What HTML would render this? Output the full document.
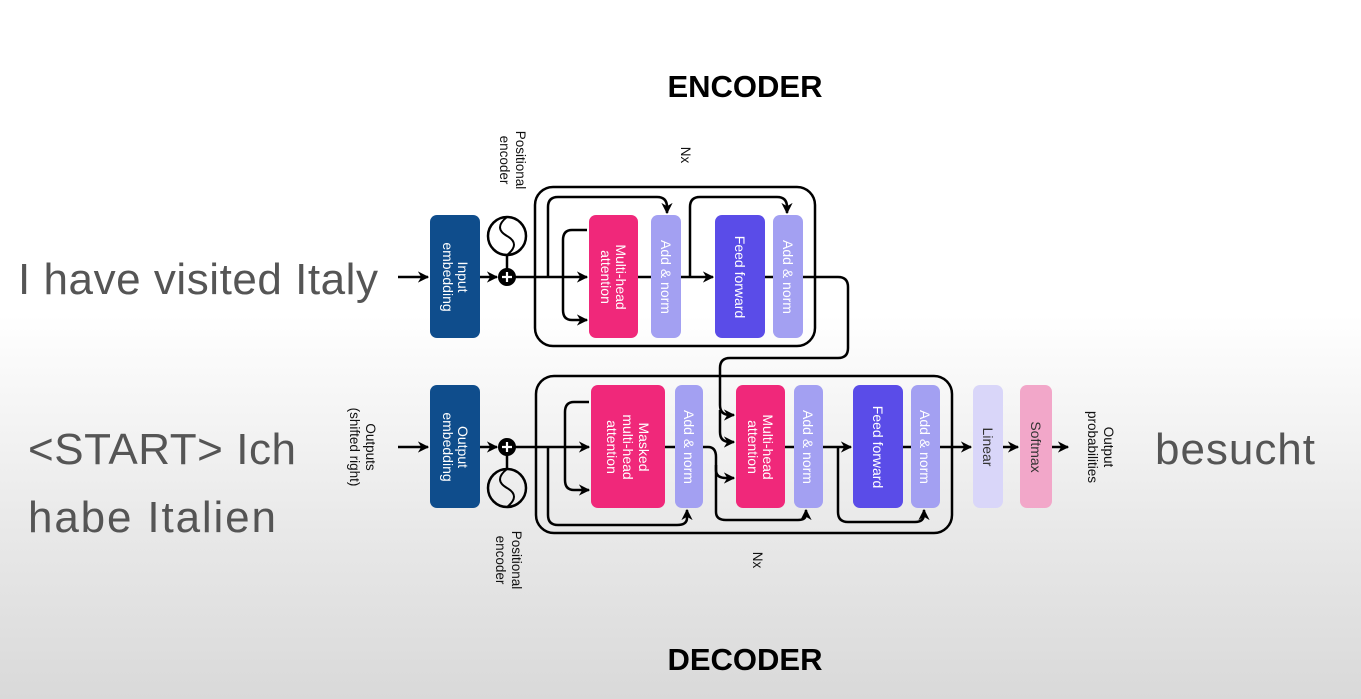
<!DOCTYPE html>
<html><head><meta charset="utf-8"><style>
html,body{margin:0;padding:0}
body{width:1361px;height:699px;overflow:hidden;background:linear-gradient(#fff 0%,#fff 45%,#e9e9e9 75%,#d9d9d9 100%);font-family:"Liberation Sans",sans-serif}
svg{position:absolute;left:0;top:0}
</style></head><body>
<svg width="1361" height="699" viewBox="0 0 1361 699">
<defs>
<marker id="a" viewBox="0 0 10 10" refX="9" refY="5" markerWidth="4.5" markerHeight="4.5" orient="auto"><path d="M0,0 L10,5 L0,10 L3,5z" fill="#000"/></marker>
</defs>
<g font-family="Liberation Sans, sans-serif">
<text x="745" y="97" font-size="31" font-weight="bold" text-anchor="middle">ENCODER</text>
<text x="745" y="670" font-size="31" font-weight="bold" text-anchor="middle">DECODER</text>
<g fill="#555" font-size="44" style="white-space:pre">
<text x="18" y="294" textLength="360">I have visited Italy</text>
<text x="28" y="464" textLength="268">&lt;START&gt;   Ich</text>
<text x="28" y="532" textLength="248">habe  Italien</text>
<text x="1155" y="464" textLength="160">besucht</text>
</g>
</g>
<g fill="none" stroke="#000" stroke-width="2.5">
<!-- encoder -->
<rect x="535" y="187" width="280" height="159" rx="18"/>
<line x1="398" y1="277" x2="428" y2="277" marker-end="url(#a)"/>
<line x1="480" y1="277" x2="497" y2="277" marker-end="url(#a)"/>
<line x1="515" y1="277" x2="587" y2="277" marker-end="url(#a)"/>
<line x1="638" y1="277" x2="651" y2="277"/>
<line x1="681" y1="277" x2="713" y2="277" marker-end="url(#a)"/>
<line x1="765" y1="277" x2="773" y2="277"/>
<path d="M548,277 V207 Q548,197 558,197 H657 Q667,197 667,207 V213" marker-end="url(#a)"/>
<path d="M690,277 V207 Q690,197 700,197 H777 Q787,197 787,207 V213" marker-end="url(#a)"/>
<path d="M587,230 H572 Q563,230 563,240 V310 Q563,320 572,320 H587" marker-end="url(#a)"/>
<path d="M803,277 H838 Q848,277 848,287 V348 Q848,358 838,358 H730 Q720,358 720,368 V405 Q720,415 730,415 H734" marker-end="url(#a)"/>
<path d="M720,410 V432 Q720,442 730,442 H734" marker-end="url(#a)"/>
<circle cx="507" cy="236" r="19"/>
<path d="M507,217 Q493,228 507,236 Q521,244 507,255" stroke-width="2"/>
<line x1="507" y1="255" x2="507" y2="270"/>
<!-- decoder -->
<rect x="536" y="376" width="416" height="157" rx="18"/>
<line x1="398" y1="447" x2="428" y2="447" marker-end="url(#a)"/>
<line x1="480" y1="447" x2="497" y2="447" marker-end="url(#a)"/>
<line x1="515" y1="447" x2="589" y2="447" marker-end="url(#a)"/>
<line x1="665" y1="447" x2="675" y2="447"/>
<path d="M548,447 V515 Q548,525 558,525 H677 Q687,525 687,518 V510" marker-end="url(#a)"/>
<path d="M589,402 H574 Q565,402 565,412 V480 Q565,490 574,490 H589" marker-end="url(#a)"/>
<path d="M703,447 H708 Q716,447 716,457 V470 Q716,478 726,478 H734" marker-end="url(#a)"/>
<path d="M716,465 V512 Q716,520 726,520 H798 Q806,520 806,514 V510" marker-end="url(#a)"/>
<line x1="785" y1="447" x2="794" y2="447"/>
<line x1="823" y1="447" x2="851" y2="447" marker-end="url(#a)"/>
<line x1="903" y1="447" x2="911" y2="447"/>
<path d="M838,447 V512 Q838,522 848,522 H915 Q924,522 924,514 V510" marker-end="url(#a)"/>
<line x1="940" y1="447" x2="971" y2="447" marker-end="url(#a)"/>
<line x1="1003" y1="447" x2="1018" y2="447" marker-end="url(#a)"/>
<line x1="1052" y1="447" x2="1068" y2="447" marker-end="url(#a)"/>
<circle cx="507" cy="488" r="19"/>
<path d="M507,469 Q493,480 507,488 Q521,496 507,507" stroke-width="2"/>
<line x1="507" y1="469" x2="507" y2="455"/>
</g>
<g fill="#000" stroke="none">
<circle cx="507" cy="277" r="9"/><circle cx="507" cy="447" r="9"/>
</g>
<g stroke="#fff" stroke-width="2.2">
<path d="M502,277 H512 M507,272 V282"/><path d="M502,447 H512 M507,442 V452"/>
</g>
<g>
<rect x="430" y="215" width="50" height="123" rx="7" fill="#0f4d8c"/>
<rect x="589" y="215" width="49" height="123" rx="7" fill="#f0287a"/>
<rect x="651" y="215" width="30" height="123" rx="7" fill="#a3a0f2"/>
<rect x="715" y="215" width="50" height="123" rx="7" fill="#5a4ce8"/>
<rect x="773" y="215" width="30" height="123" rx="7" fill="#a3a0f2"/>
<rect x="430" y="385" width="50" height="123" rx="7" fill="#0f4d8c"/>
<rect x="591" y="385" width="74" height="123" rx="7" fill="#f0287a"/>
<rect x="675" y="385" width="28" height="123" rx="7" fill="#a3a0f2"/>
<rect x="736" y="385" width="49" height="123" rx="7" fill="#f0287a"/>
<rect x="794" y="385" width="29" height="123" rx="7" fill="#a3a0f2"/>
<rect x="853" y="385" width="50" height="123" rx="7" fill="#5a4ce8"/>
<rect x="911" y="385" width="29" height="123" rx="7" fill="#a3a0f2"/>
<rect x="973" y="385" width="30" height="123" rx="7" fill="#d9d6f9"/>
<rect x="1020" y="385" width="32" height="123" rx="7" fill="#f2a7c9"/>
</g>
<g font-family="Liberation Sans, sans-serif" font-size="14" fill="#fff" text-anchor="middle">
<text transform="translate(455,277) rotate(90)"><tspan x="0" y="-3">Input</tspan><tspan x="0" y="12">embedding</tspan></text>
<text transform="translate(613,277) rotate(90)"><tspan x="0" y="-3">Multi-head</tspan><tspan x="0" y="12">attention</tspan></text>
<text transform="translate(666,277) rotate(90)" y="5">Add &amp; norm</text>
<text transform="translate(740,277) rotate(90)" y="5">Feed forward</text>
<text transform="translate(788,277) rotate(90)" y="5">Add &amp; norm</text>
<text transform="translate(455,447) rotate(90)"><tspan x="0" y="-3">Output</tspan><tspan x="0" y="12">embedding</tspan></text>
<text transform="translate(628,447) rotate(90)"><tspan x="0" y="-11">Masked</tspan><tspan x="0" y="5">multi-head</tspan><tspan x="0" y="21">attention</tspan></text>
<text transform="translate(689,447) rotate(90)" y="5">Add &amp; norm</text>
<text transform="translate(760,447) rotate(90)"><tspan x="0" y="-3">Multi-head</tspan><tspan x="0" y="12">attention</tspan></text>
<text transform="translate(808,447) rotate(90)" y="5">Add &amp; norm</text>
<text transform="translate(878,447) rotate(90)" y="5">Feed forward</text>
<text transform="translate(925,447) rotate(90)" y="5">Add &amp; norm</text>
<text transform="translate(988,447) rotate(90)" y="5" fill="#333">Linear</text>
<text transform="translate(1036,447) rotate(90)" y="5" fill="#333">Softmax</text>
</g>
<g font-family="Liberation Sans, sans-serif" font-size="13.5" fill="#111" text-anchor="middle">
<text transform="translate(510,160) rotate(90)"><tspan x="0" y="-6">Positional</tspan><tspan x="0" y="10">encoder</tspan></text>
<text transform="translate(686,155) rotate(90)" y="5">Nx</text>
<text transform="translate(360,447) rotate(90)"><tspan x="0" y="-6">Outputs</tspan><tspan x="0" y="10">(shifted right)</tspan></text>
<text transform="translate(502,560) rotate(90)"><tspan x="0" y="-10">Positional</tspan><tspan x="0" y="6">encoder</tspan></text>
<text transform="translate(758,560) rotate(90)" y="5">Nx</text>
<text transform="translate(1098,447) rotate(90)"><tspan x="0" y="-6">Output</tspan><tspan x="0" y="10">probabilities</tspan></text>
</g>
</svg>
</body></html>
